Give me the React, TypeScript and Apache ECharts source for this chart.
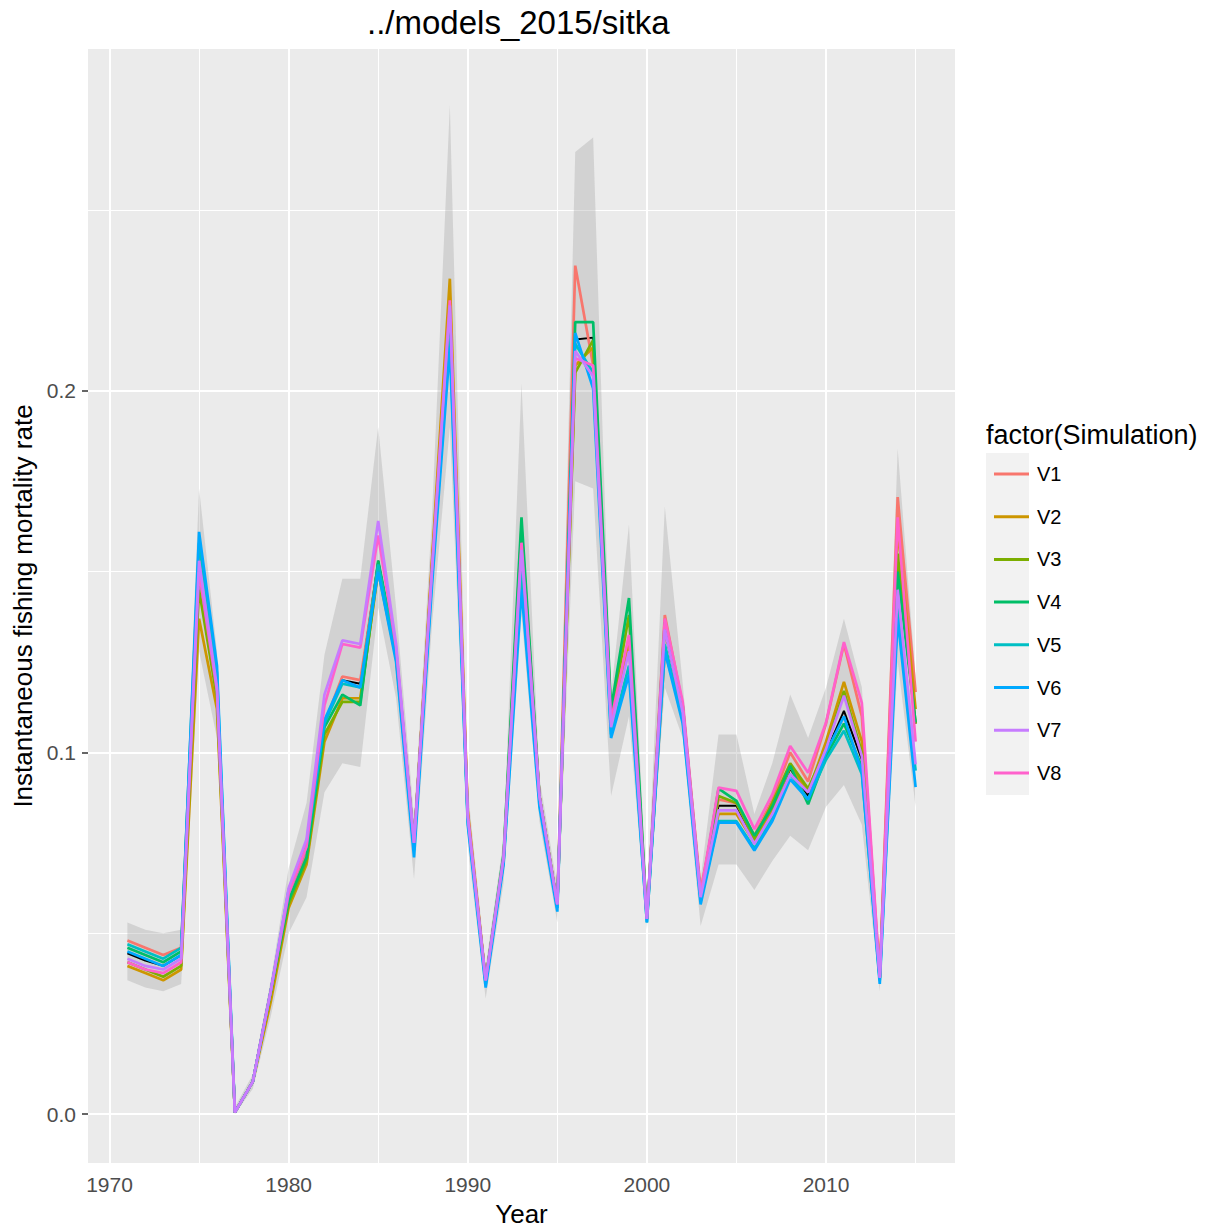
import React, { useEffect, useRef } from "react";
import * as echarts from "echarts";

const years = [1971, 1972, 1973, 1974, 1975, 1976, 1977, 1978, 1979, 1980, 1981, 1982, 1983, 1984, 1985, 1986, 1987, 1988, 1989, 1990, 1991, 1992, 1993, 1994, 1995, 1996, 1997, 1998, 1999, 2000, 2001, 2002, 2003, 2004, 2005, 2006, 2007, 2008, 2009, 2010, 2011, 2012, 2013, 2014, 2015];

const v1 = [0.048, 0.046, 0.044, 0.046, 0.155, 0.118, 0.0005, 0.009, 0.034, 0.060, 0.072, 0.108, 0.121, 0.120, 0.152, 0.128, 0.075, 0.152, 0.226, 0.083, 0.037, 0.071, 0.158, 0.088, 0.058, 0.2346, 0.207, 0.108, 0.132, 0.054, 0.138, 0.113, 0.062, 0.087, 0.086, 0.077, 0.087, 0.100, 0.092, 0.108, 0.130, 0.110, 0.038, 0.1706, 0.1167];
const v2 = [0.041, 0.039, 0.037, 0.040, 0.137, 0.112, 0.0005, 0.009, 0.031, 0.057, 0.069, 0.103, 0.115, 0.115, 0.150, 0.126, 0.074, 0.153, 0.231, 0.084, 0.037, 0.070, 0.156, 0.088, 0.058, 0.207, 0.212, 0.107, 0.130, 0.054, 0.128, 0.110, 0.060, 0.083, 0.083, 0.075, 0.084, 0.096, 0.089, 0.103, 0.1195, 0.103, 0.0377, 0.162, 0.112];
const v3 = [0.042, 0.040, 0.038, 0.041, 0.145, 0.115, 0.0005, 0.009, 0.033, 0.058, 0.070, 0.105, 0.114, 0.114, 0.151, 0.127, 0.075, 0.151, 0.223, 0.082, 0.037, 0.071, 0.162, 0.088, 0.058, 0.205, 0.214, 0.110, 0.138, 0.054, 0.134, 0.112, 0.060, 0.088, 0.086, 0.076, 0.086, 0.097, 0.090, 0.101, 0.117, 0.100, 0.0377, 0.155, 0.108];
const v4 = [0.046, 0.044, 0.042, 0.045, 0.150, 0.118, 0.0005, 0.009, 0.034, 0.059, 0.071, 0.107, 0.116, 0.113, 0.153, 0.128, 0.075, 0.150, 0.222, 0.082, 0.037, 0.072, 0.165, 0.088, 0.058, 0.219, 0.219, 0.112, 0.1427, 0.054, 0.136, 0.113, 0.060, 0.090, 0.0866, 0.077, 0.085, 0.0963, 0.0857, 0.099, 0.108, 0.096, 0.0377, 0.150, 0.1083];
const v5 = [0.047, 0.045, 0.043, 0.046, 0.158, 0.122, 0.0005, 0.009, 0.034, 0.061, 0.074, 0.108, 0.119, 0.118, 0.152, 0.127, 0.073, 0.148, 0.215, 0.081, 0.036, 0.070, 0.150, 0.087, 0.057, 0.213, 0.205, 0.105, 0.124, 0.053, 0.130, 0.109, 0.059, 0.081, 0.081, 0.0735, 0.082, 0.094, 0.087, 0.098, 0.106, 0.094, 0.037, 0.140, 0.095];
const v6 = [0.045, 0.043, 0.041, 0.044, 0.161, 0.124, 0.0005, 0.009, 0.034, 0.062, 0.075, 0.109, 0.120, 0.118, 0.150, 0.125, 0.071, 0.146, 0.212, 0.080, 0.035, 0.069, 0.145, 0.085, 0.056, 0.216, 0.2006, 0.104, 0.1215, 0.053, 0.128, 0.108, 0.058, 0.0806, 0.0806, 0.0729, 0.081, 0.0926, 0.087, 0.100, 0.110, 0.0947, 0.036, 0.137, 0.0904];
const v7 = [0.043, 0.041, 0.040, 0.043, 0.153, 0.118, 0.0005, 0.009, 0.034, 0.0625, 0.076, 0.116, 0.131, 0.130, 0.164, 0.130, 0.075, 0.150, 0.2236, 0.082, 0.037, 0.071, 0.156, 0.088, 0.058, 0.211, 0.204, 0.107, 0.128, 0.054, 0.134, 0.111, 0.060, 0.084, 0.084, 0.0747, 0.083, 0.094, 0.089, 0.101, 0.1157, 0.099, 0.0377, 0.145, 0.0967];
const v8 = [0.042, 0.040, 0.039, 0.042, 0.150, 0.117, 0.0005, 0.009, 0.034, 0.061, 0.074, 0.113, 0.130, 0.129, 0.160, 0.129, 0.075, 0.151, 0.225, 0.083, 0.037, 0.071, 0.158, 0.088, 0.058, 0.209, 0.207, 0.109, 0.1325, 0.054, 0.137, 0.114, 0.061, 0.0903, 0.0894, 0.0788, 0.0884, 0.1018, 0.0944, 0.1083, 0.1305, 0.1137, 0.038, 0.165, 0.103];
const median = [0.0445, 0.0425, 0.041, 0.044, 0.152, 0.118, 0.0005, 0.009, 0.034, 0.0585, 0.070, 0.108, 0.120, 0.119, 0.153, 0.127, 0.075, 0.150, 0.222, 0.082, 0.037, 0.071, 0.157, 0.088, 0.058, 0.2142, 0.2147, 0.108, 0.130, 0.054, 0.134, 0.111, 0.060, 0.0853, 0.0853, 0.075, 0.084, 0.0955, 0.088, 0.100, 0.1115, 0.098, 0.0377, 0.1516, 0.108];

const bandUpper = [0.053, 0.051, 0.050, 0.051, 0.173, 0.128, 0.002, 0.011, 0.037, 0.068, 0.086, 0.127, 0.148, 0.148, 0.190, 0.140, 0.082, 0.165, 0.279, 0.090, 0.041, 0.076, 0.202, 0.093, 0.063, 0.266, 0.270, 0.116, 0.163, 0.058, 0.168, 0.119, 0.065, 0.105, 0.105, 0.083, 0.097, 0.116, 0.104, 0.118, 0.137, 0.118, 0.041, 0.184, 0.121];
const bandLower = [0.037, 0.035, 0.034, 0.036, 0.128, 0.104, 0.0, 0.007, 0.027, 0.050, 0.060, 0.089, 0.097, 0.096, 0.140, 0.115, 0.065, 0.135, 0.190, 0.074, 0.032, 0.064, 0.138, 0.081, 0.053, 0.175, 0.173, 0.088, 0.110, 0.051, 0.118, 0.104, 0.052, 0.069, 0.069, 0.062, 0.070, 0.077, 0.073, 0.085, 0.091, 0.080, 0.034, 0.125, 0.085];

const seriesNames = ["V1", "V2", "V3", "V4", "V5", "V6", "V7", "V8"];
const seriesValues = [v1, v2, v3, v4, v5, v6, v7, v8];
const seriesColors = ["#F8766D", "#CD9600", "#7CAE00", "#00BE67", "#00BFC4", "#00A9FF", "#C77CFF", "#FF61CC"];
const drawOrder = [0, 1, 2, 3, 4, 5, 7, 6];

const xMajor = [1970, 1980, 1990, 2000, 2010];
const xMinor = [1975, 1985, 1995, 2005, 2015];
const yMajor = [0, 0.1, 0.2];
const yMinor = [0.05, 0.15, 0.25];

const FONT = "Liberation Sans, Arial, Helvetica, sans-serif";

export default function App() {
  const ref = useRef<HTMLDivElement>(null);

  useEffect(() => {
    document.body.style.margin = "0";
    if (!ref.current) return;
    const chart = echarts.init(ref.current, null, { renderer: "svg" });

    const gridLines = [
      ...xMajor.map((v) => ({ xAxis: v, lineStyle: { width: 2 } })),
      ...xMinor.map((v) => ({ xAxis: v, lineStyle: { width: 1 } })),
      ...yMajor.map((v) => ({ yAxis: v, lineStyle: { width: 2 } })),
      ...yMinor.map((v) => ({ yAxis: v, lineStyle: { width: 1 } })),
    ];

    const lineSeries = drawOrder.map((k) => ({
      name: seriesNames[k],
      type: "line",
      data: years.map((y, i) => [y, seriesValues[k][i]]),
      color: seriesColors[k],
      showSymbol: false,
      symbol: "none",
      lineStyle: { color: seriesColors[k], width: 2.7 },
      z: 4,
      emphasis: { disabled: true },
    }));

    const bandData = years.map((y, i) => [y, bandLower[i], bandUpper[i]]);

    const option: any = {
      animation: false,
      backgroundColor: "#ffffff",
      textStyle: { fontFamily: FONT },
      title: [
        {
          text: "../models_2015/sitka",
          left: 362,
          top: 1,
          textStyle: { fontFamily: FONT, fontSize: 33, fontWeight: "normal", color: "#000000" },
        },
        {
          text: "factor(Simulation)",
          left: 981,
          top: 416,
          textStyle: { fontFamily: FONT, fontSize: 27, fontWeight: "normal", color: "#000000" },
        },
      ],
      legend: {
        data: seriesNames,
        orient: "vertical",
        left: 989,
        top: 457,
        icon: "rect",
        itemWidth: 35,
        itemHeight: 3,
        itemGap: 18.7,
        selectedMode: false,
        textStyle: { fontFamily: FONT, fontSize: 20, color: "#000000", lineHeight: 24, padding: [0, 0, 0, 3] },
      },
      graphic: [
        {
          type: "rect",
          left: 986,
          top: 453,
          shape: { width: 43, height: 342 },
          style: { fill: "#F2F2F2" },
          z: -1,
          silent: true,
        },
      ],
      grid: {
        left: 88,
        right: 252,
        top: 49,
        bottom: 67,
        show: true,
        backgroundColor: "#EBEBEB",
        borderWidth: 0,
      },
      xAxis: {
        type: "value",
        min: 1968.8,
        max: 2017.2,
        name: "Year",
        nameLocation: "middle",
        nameGap: 38,
        nameTextStyle: { fontFamily: FONT, fontSize: 26, color: "#000000" },
        axisLine: { show: false },
        axisTick: { show: true, customValues: xMajor, length: 6, lineStyle: { color: "#333333", width: 1.5 } },
        axisLabel: {
          customValues: xMajor,
          fontFamily: FONT,
          fontSize: 21,
          color: "#4D4D4D",
          margin: 11,
          formatter: (v: number) => String(v),
        },
        splitLine: { show: false },
      },
      yAxis: {
        type: "value",
        min: -0.0135,
        max: 0.2945,
        name: "Instantaneous fishing mortality rate",
        nameLocation: "middle",
        nameGap: 50,
        nameTextStyle: { fontFamily: FONT, fontSize: 26, color: "#000000" },
        axisLine: { show: false },
        axisTick: { show: true, customValues: yMajor, length: 6, lineStyle: { color: "#333333", width: 1.5 } },
        axisLabel: {
          customValues: yMajor,
          fontFamily: FONT,
          fontSize: 21,
          color: "#4D4D4D",
          margin: 12,
          formatter: (v: number) => v.toFixed(1),
        },
        splitLine: { show: false },
      },
      series: [
        {
          name: "gridlines",
          type: "line",
          data: [],
          z: 1,
          silent: true,
          markLine: {
            silent: true,
            z: 1,
            symbol: ["none", "none"],
            label: { show: false },
            emphasis: { disabled: true },
            lineStyle: { color: "#FFFFFF", type: "solid", width: 2 },
            data: gridLines,
          },
        },
        {
          name: "band",
          type: "custom",
          data: bandData,
          z: 2,
          silent: true,
          encode: { x: 0, y: [1, 2] },
          renderItem: (params: any, api: any) => {
            if (params.dataIndex !== 0) return null;
            const upperPts = bandData.map((d) => api.coord([d[0], d[2]]));
            const lowerPts = bandData.map((d) => api.coord([d[0], d[1]])).reverse();
            return {
              type: "polygon",
              shape: { points: upperPts.concat(lowerPts) },
              style: { fill: "rgba(153,153,153,0.3)", stroke: "none" },
            };
          },
        },
        {
          name: "median",
          type: "line",
          data: years.map((y, i) => [y, median[i]]),
          showSymbol: false,
          symbol: "none",
          lineStyle: { color: "#000000", width: 2 },
          z: 3,
          emphasis: { disabled: true },
        },
        ...lineSeries,
      ],
    };

    chart.setOption(option);
    return () => chart.dispose();
  }, []);

  return (
    <div
      ref={ref}
      style={{ position: "absolute", left: 0, top: 0, width: 1207, height: 1232 }}
    />
  );
}
